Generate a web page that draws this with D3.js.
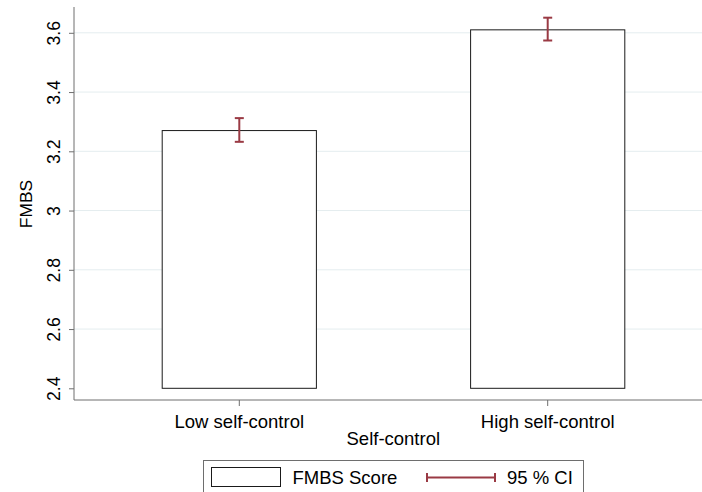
<!DOCTYPE html>
<html>
<head>
<meta charset="utf-8">
<script src="https://cdn.jsdelivr.net/npm/d3@7"></script>
<style>
  body { margin: 0; background: #fff; }
  text { font-family: "Liberation Sans", Arial, sans-serif; fill: #000; }
</style>
</head>
<body>
<div class="chart"></div>
<script>
const categories = ['Low self-control', 'High self-control'];
const means = [3.27, 3.61];
const ciLow = [3.232, 3.574];
const ciHigh = [3.312, 3.651];
const yTicks = [2.4, 2.6, 2.8, 3.0, 3.2, 3.4, 3.6];
const yTickLabels = ['2.4', '2.6', '2.8', '3', '3.2', '3.4', '3.6'];

const fullWidth = 702;
const fullHeight = 492;

const plot = { left: 74, right: 702, top: 7, bottom: 400 };

const svg = d3.select('.chart')
    .append('svg')
        .attr('width', fullWidth)
        .attr('height', fullHeight);

const yScale = d3.scaleLinear()
    .domain([2.4, 3.6])
    .range([388.3, 32.8]);

const xScale = d3.scaleBand()
    .domain(categories)
    .range([8, 779])
    .paddingInner(0.5)
    .paddingOuter(0.5);

// gridlines (none at the bottom tick)
svg.append('g')
    .selectAll('line')
    .data(yTicks.slice(1))
    .enter()
    .append('line')
        .attr('x1', plot.left)
        .attr('x2', plot.right)
        .attr('y1', d => yScale(d))
        .attr('y2', d => yScale(d))
        .attr('stroke', '#e4edef')
        .attr('stroke-width', 1);

// bars
svg.append('g')
    .selectAll('rect')
    .data(means)
    .enter()
    .append('rect')
        .attr('x', (d, i) => xScale(categories[i]))
        .attr('y', d => yScale(d))
        .attr('width', xScale.bandwidth())
        .attr('height', d => yScale(2.4) - yScale(d))
        .attr('fill', '#fff')
        .attr('stroke', '#1a1a1a')
        .attr('stroke-width', 1);

// confidence intervals
const ciColor = '#9a3a44';
const capHalf = 4.5;
const ci = svg.append('g')
    .selectAll('g')
    .data(categories)
    .enter()
    .append('g')
        .attr('stroke', ciColor)
        .attr('stroke-width', 2);

ci.append('line')
    .attr('x1', d => xScale(d) + xScale.bandwidth() / 2)
    .attr('x2', d => xScale(d) + xScale.bandwidth() / 2)
    .attr('y1', (d, i) => yScale(ciLow[i]))
    .attr('y2', (d, i) => yScale(ciHigh[i]));

ci.append('line')
    .attr('x1', d => xScale(d) + xScale.bandwidth() / 2 - capHalf)
    .attr('x2', d => xScale(d) + xScale.bandwidth() / 2 + capHalf)
    .attr('y1', (d, i) => yScale(ciLow[i]))
    .attr('y2', (d, i) => yScale(ciLow[i]));

ci.append('line')
    .attr('x1', d => xScale(d) + xScale.bandwidth() / 2 - capHalf)
    .attr('x2', d => xScale(d) + xScale.bandwidth() / 2 + capHalf)
    .attr('y1', (d, i) => yScale(ciHigh[i]))
    .attr('y2', (d, i) => yScale(ciHigh[i]));

// y axis
const yAxis = d3.axisLeft(yScale)
    .tickValues(yTicks)
    .tickFormat((d, i) => yTickLabels[i])
    .tickSize(5)
    .tickSizeOuter(0);

const yg = svg.append('g')
    .attr('transform', `translate(${plot.left}, 0)`)
    .call(yAxis);
yg.select('.domain').remove();
yg.selectAll('.tick line').attr('stroke', '#6e6e6e');
yg.selectAll('.tick text')
    .attr('x', null).attr('dy', null)
    .attr('transform', 'translate(-14, 0) rotate(-90)')
    .attr('text-anchor', 'middle')
    .style('font-size', '17.6px')
    .style('font-family', '"Liberation Sans", Arial, sans-serif')
    .attr('fill', '#000');

svg.append('line')
    .attr('x1', plot.left).attr('x2', plot.left)
    .attr('y1', plot.top).attr('y2', plot.bottom)
    .attr('stroke', '#6e6e6e');

// x axis
const xAxis = d3.axisBottom(xScale)
    .tickSize(6)
    .tickSizeOuter(0)
    .tickPadding(6);

const xg = svg.append('g')
    .attr('transform', `translate(0, ${plot.bottom})`)
    .call(xAxis);
xg.select('.domain').remove();
xg.selectAll('.tick line').attr('stroke', '#6e6e6e');
xg.selectAll('.tick text')
    .attr('y', null).attr('dy', null)
    .attr('transform', 'translate(0, 28.3)')
    .style('font-size', '18.5px')
    .style('font-family', '"Liberation Sans", Arial, sans-serif')
    .attr('fill', '#000');

svg.append('line')
    .attr('x1', plot.left).attr('x2', plot.right)
    .attr('y1', plot.bottom).attr('y2', plot.bottom)
    .attr('stroke', '#6e6e6e');

// axis titles
svg.append('text')
    .attr('transform', 'translate(32, 204) rotate(-90)')
    .attr('text-anchor', 'middle')
    .style('font-size', '17.4px')
    .text('FMBS');

svg.append('text')
    .attr('x', 393.3)
    .attr('y', 445)
    .attr('text-anchor', 'middle')
    .style('font-size', '18.5px')
    .text('Self-control');

// legend
const legend = svg.append('g');
legend.append('rect')
    .attr('x', 203.5).attr('y', 460.5)
    .attr('width', 380).attr('height', 40)
    .attr('fill', '#fff')
    .attr('stroke', '#6e6e6e');
legend.append('rect')
    .attr('x', 211.5).attr('y', 467.5)
    .attr('width', 69).attr('height', 19)
    .attr('fill', '#fff')
    .attr('stroke', '#1a1a1a');
legend.append('text')
    .attr('x', 292.5).attr('y', 484)
    .style('font-size', '18.5px')
    .text('FMBS Score');
const legCi = legend.append('g').attr('stroke', ciColor).attr('stroke-width', 2);
legCi.append('line').attr('x1', 426).attr('x2', 496).attr('y1', 477.5).attr('y2', 477.5);
legCi.append('line').attr('x1', 427).attr('x2', 427).attr('y1', 473).attr('y2', 482);
legCi.append('line').attr('x1', 495).attr('x2', 495).attr('y1', 473).attr('y2', 482);
legend.append('text')
    .attr('x', 507).attr('y', 484)
    .style('font-size', '18.5px')
    .text('95 % CI');
</script>
</body>
</html>
